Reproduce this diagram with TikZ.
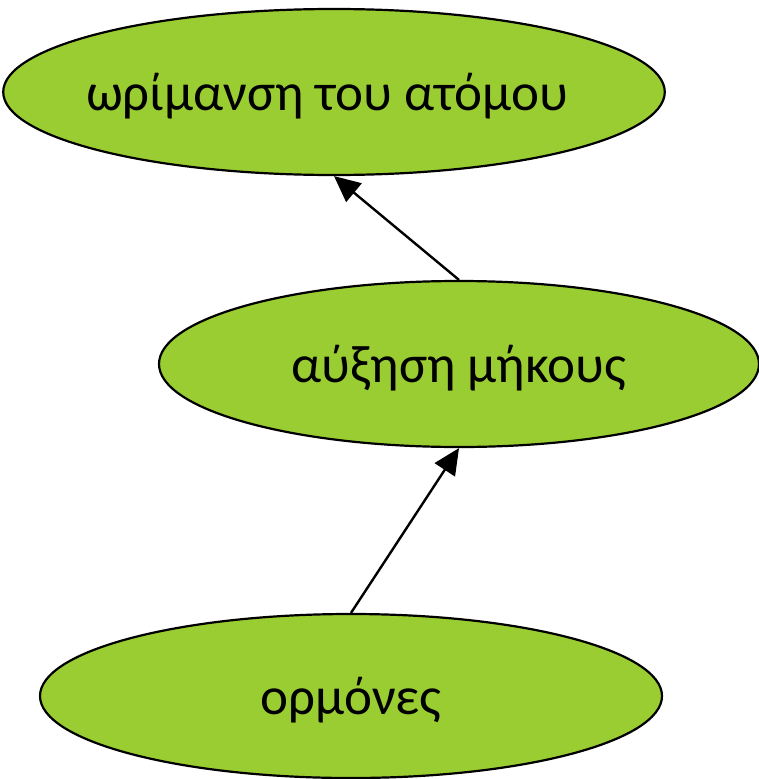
\documentclass[tikz,border=0pt]{standalone}
\usepackage{fontspec}
\setmainfont{Carlito}
\usetikzlibrary{shapes.geometric,arrows.meta}
\definecolor{leaf}{RGB}{154,205,50}
\begin{document}
\begin{tikzpicture}[x=1pt,y=-1pt,
  bubble/.style={ellipse, draw=black, line width=2.2pt, fill=leaf, inner sep=0pt,
    font=\fontsize{53}{60}\selectfont, text height=40pt, text depth=4pt},
  link/.style={line width=2.4pt, -{Triangle[length=26pt,width=24pt]}}]
\useasboundingbox (0,0) rectangle (759,779);
\node[bubble, minimum width=652pt, minimum height=166pt] (e1) at (334,92) {\hspace*{-14pt}ωρίμανση του ατόμου};
\node[bubble, minimum width=600pt, minimum height=166pt] (e2) at (459,364) {αύξηση μήκους};
\node[bubble, minimum width=622pt, minimum height=164pt] (e3) at (351,696) {ορμόνες};
\draw[link] (e2.north) -- (e1.south);
\draw[link] (e3.north) -- (e2.south);
\end{tikzpicture}
\end{document}
